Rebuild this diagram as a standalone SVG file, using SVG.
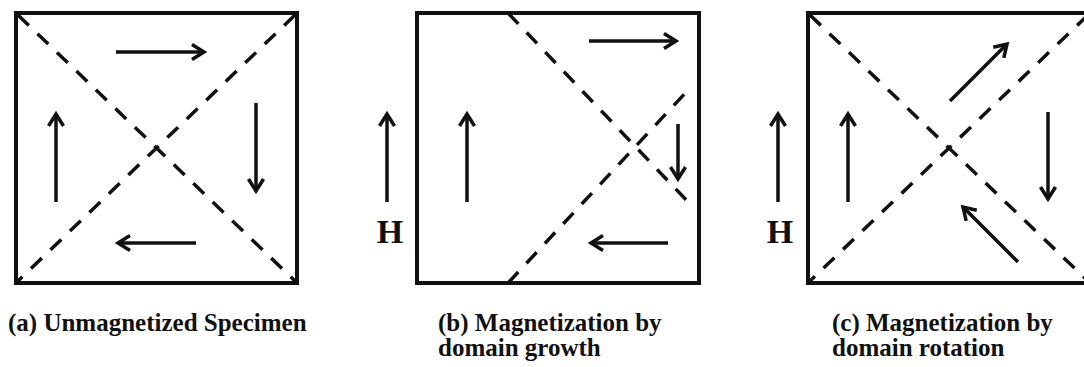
<svg xmlns="http://www.w3.org/2000/svg" width="1084" height="367" viewBox="0 0 1084 367">
<style>
.box{fill:none;stroke:#111;stroke-width:4}
.dash{fill:none;stroke:#111;stroke-width:3.5;stroke-dasharray:15 12}
.arr{fill:none;stroke:#111;stroke-width:3.5;marker-end:url(#ah)}
.lbl{font-family:"Liberation Serif","Times New Roman",serif;font-weight:bold;font-size:25px;fill:#111}
.h{font-family:"Liberation Serif","Times New Roman",serif;font-weight:bold;font-size:34px;fill:#111;text-anchor:middle}
</style>
<defs>
<marker id="ah" markerUnits="userSpaceOnUse" markerWidth="20" markerHeight="20" refX="0" refY="0" viewBox="-14 -10 16 20" orient="auto">
<path d="M-12,-7.5 L0,0 L-12,7.5" fill="none" stroke="#111" stroke-width="3.5"/>
</marker>
</defs>
<rect width="1084" height="367" fill="#fff"/>
<g id="panel-a">
<rect class="box" x="16" y="13" width="281" height="270"/>
<line class="dash" x1="18" y1="15" x2="295" y2="281"/>
<line class="dash" x1="295" y1="15" x2="18" y2="281"/>
<line class="arr" x1="116" y1="52" x2="204" y2="52"/>
<line class="arr" x1="256" y1="103" x2="256" y2="191"/>
<line class="arr" x1="196" y1="243" x2="118" y2="243"/>
<line class="arr" x1="56" y1="202" x2="56" y2="114"/>
<text class="lbl" x="8" y="331">(a) Unmagnetized Specimen</text>
</g>
<g id="panel-b">
<rect class="box" x="417" y="13" width="282" height="270"/>
<line class="dash" x1="508" y1="13" x2="692" y2="206"/>
<line class="dash" x1="508" y1="283" x2="691" y2="87"/>
<line class="arr" x1="387" y1="202" x2="387" y2="114"/>
<text class="h" x="390" y="243">H</text>
<line class="arr" x1="467" y1="202" x2="467" y2="114"/>
<line class="arr" x1="589" y1="41" x2="676" y2="41"/>
<line class="arr" x1="678" y1="124" x2="678" y2="179"/>
<line class="arr" x1="668" y1="243" x2="591" y2="243"/>
<text class="lbl" x="438" y="331">(b) Magnetization by</text>
<text class="lbl" x="438" y="356">domain growth</text>
</g>
<g id="panel-c">
<rect class="box" x="808" y="13" width="282" height="270"/>
<line class="dash" x1="810" y1="15" x2="1088" y2="281"/>
<line class="dash" x1="1088" y1="15" x2="810" y2="281"/>
<line class="arr" x1="778" y1="202" x2="778" y2="114"/>
<text class="h" x="780" y="243">H</text>
<line class="arr" x1="848" y1="202" x2="848" y2="114"/>
<line class="arr" x1="950" y1="101" x2="1007" y2="44"/>
<line class="arr" x1="1048" y1="112" x2="1048" y2="199"/>
<line class="arr" x1="1018" y1="262" x2="963" y2="207"/>
<text class="lbl" x="832" y="331">(c) Magnetization by</text>
<text class="lbl" x="832" y="356">domain rotation</text>
</g>
</svg>
